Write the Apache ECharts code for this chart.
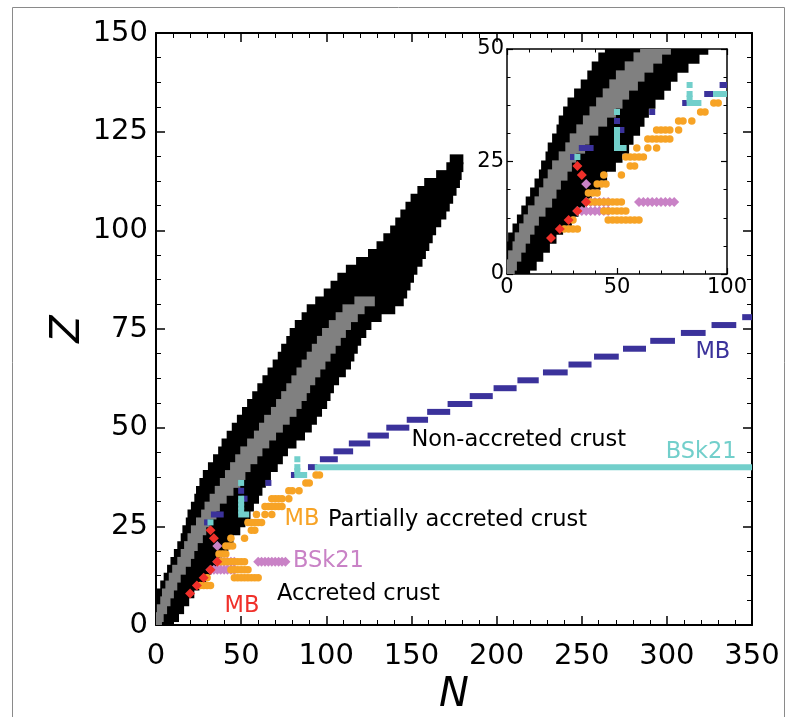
<!DOCTYPE html>
<html>
<head>
<meta charset="utf-8">
<script src="https://cdn.jsdelivr.net/npm/echarts@6/dist/echarts.min.js"></script>
<style>
  html, body { margin: 0; padding: 0; background: #fff; }
  #chart { width: 792px; height: 717px; }
</style>
</head>
<body>
<div id="chart"></div>
<script>
// Nuclear chart: bound nuclei (black), measured masses (gray) and crust compositions.
// Rows are [Z, Nmin, Nmax], each row covering Z-1 .. Z+1.
const boundRows = [
  [0, 0, 10], [2, 0, 13], [4, 0, 16], [6, 0, 19], [8, 1, 22], [10, 3, 25],
  [12, 5, 29], [14, 7, 32], [16, 9, 35], [18, 11, 38], [20, 13, 42], [22, 15, 45],
  [24, 16, 49], [26, 18, 52], [28, 19, 55], [30, 21, 57], [32, 23, 60], [34, 24, 62],
  [36, 26, 64], [38, 28, 67], [40, 31, 71], [42, 34, 74], [44, 37, 77], [46, 39, 82],
  [48, 42, 87], [50, 45, 91], [52, 48, 94], [54, 51, 97], [56, 54, 100], [58, 57, 102],
  [60, 60, 104], [62, 63, 107], [64, 66, 111], [66, 69, 114], [68, 72, 116], [70, 74, 118],
  [72, 77, 120], [74, 79, 123], [76, 82, 126], [78, 86, 132], [80, 89, 140], [82, 94, 145],
  [84, 99, 147], [86, 103, 149], [88, 107, 151], [90, 112, 153], [92, 118, 156], [94, 125, 158],
  [96, 130, 160], [98, 134, 162], [100, 138, 164], [102, 141, 167], [104, 144, 170], [106, 147, 172],
  [108, 150, 174], [110, 154, 176], [112, 158, 178], [114, 165, 179], [116, 171, 180], [118, 173, 180]
];
const measuredRows = [
  [0, 0, 3], [2, 0, 4], [4, 1, 6], [6, 3, 8], [8, 4, 10], [10, 6, 12],
  [12, 8, 14], [14, 10, 17], [16, 13, 20], [18, 15, 22], [20, 17, 24], [22, 19, 27],
  [24, 21, 29], [26, 24, 31], [28, 27, 35], [30, 29, 37], [32, 32, 41], [34, 35, 45],
  [36, 38, 49], [38, 41, 52], [40, 44, 55], [42, 47, 59], [44, 50, 62], [46, 54, 66],
  [48, 58, 70], [50, 61, 74], [52, 64, 78], [54, 68, 82], [56, 71, 85], [58, 74, 88],
  [60, 77, 90], [62, 80, 93], [64, 83, 96], [66, 86, 99], [68, 89, 102], [70, 92, 105],
  [72, 95, 108], [74, 98, 111], [76, 102, 114], [78, 106, 118], [80, 110, 122], [82, 117, 128]
];

// Points are [N, Z].
const partialMB = [
  [26, 10], [28, 10], [30, 10], [32, 10],
  [30, 12], [46, 12], [48, 12], [50, 12], [52, 12], [54, 12], [56, 12], [58, 12], [60, 12],
  [44, 14], [46, 14], [48, 14], [50, 14], [52, 14], [54, 14],
  [38, 16], [40, 16], [42, 16], [44, 16], [46, 16], [48, 16], [50, 16], [52, 16],
  [37, 18], [39, 18], [41, 18],
  [41, 20], [43, 20], [45, 20],
  [44, 22], [52, 22],
  [56, 24], [58, 24],
  [54, 26], [56, 26], [58, 26], [60, 26], [62, 26],
  [59, 28], [64, 28], [68, 28],
  [64, 30], [66, 30], [68, 30], [70, 30], [72, 30], [74, 30],
  [68, 32], [70, 32], [72, 32], [74, 32], [78, 32],
  [78, 34], [80, 34], [84, 34],
  [88, 36], [90, 36],
  [94, 38], [96, 38]
];
const accretedBSk21 = [
  [36, 20],
  [36, 16], [38, 16], [40, 16], [42, 16], [44, 16], [46, 16],
  [60, 16], [62, 16], [64, 16], [66, 16], [68, 16], [70, 16], [72, 16], [74, 16], [76, 16],
  [32, 14], [34, 14], [36, 14], [38, 14], [40, 14], [42, 14], [44, 14], [46, 14]
];
const accretedMB = [[20, 8], [24, 10], [28, 12], [32, 14], [36, 16], [34, 22], [32, 24]];

// Runs of neighbouring N at fixed Z: [Z, Nfrom, Nto].
const nonAccretedMB = [
  [26, 30, 30], [28, 34, 38], [32, 52, 52], [34, 50, 50], [36, 66, 66], [38, 81, 81],
  [40, 91, 93], [42, 98, 105], [44, 106, 114], [46, 115, 124], [48, 126, 135], [50, 137, 147],
  [52, 149, 158], [54, 161, 171], [56, 173, 184], [58, 186, 196], [60, 200, 210], [62, 214, 223],
  [64, 229, 240], [66, 244, 254], [68, 259, 270], [70, 276, 286], [72, 292, 303], [74, 310, 321],
  [76, 328, 339], [78, 346, 354]
];
const nonAccretedBSk21 = [
  [26, 32, 32], [28, 50, 53], [29, 50, 50], [30, 50, 50], [31, 50, 50], [32, 50, 50],
  [36, 50, 50], [38, 83, 87], [39, 83, 83], [40, 83, 83], [42, 83, 83], [40, 95, 350]
];

// Region labels: [N, Z, text, colour, align]
const regionLabels = [
  [327, 69.2, 'MB', '#3b329b', 'center'],
  [150, 46.9, 'Non-accreted crust', '#000000', 'left'],
  [341, 43.8, 'BSk21', '#72cfcb', 'right'],
  [85.7, 26.9, 'MB', '#f7a325', 'center'],
  [101, 26.6, 'Partially accreted crust', '#000000', 'left'],
  [80.4, 16.2, 'BSk21', '#c982c6', 'left'],
  [71, 7.9, 'Accreted crust', '#000000', 'left'],
  [50.5, 4.8, 'MB', '#f0302a', 'center']
];

const mainTicksX = { min: 0, max: 350, interval: 50, minor: 5 };
const mainTicksY = { min: 0, max: 150, interval: 25, minor: 4 };
const insetTicksX = { min: 0, max: 100, interval: 50, minor: 5 };
const insetTicksY = { min: 0, max: 50, interval: 25, minor: 4 };

const FONT = 'DejaVu Sans';

function clipTo(params, r) {
  const cs = params.coordSys;
  return echarts.graphic.clipRectByRect(r, { x: cs.x, y: cs.y, width: cs.width, height: cs.height });
}

// Filled rows; a small overlap in Z keeps neighbouring rows seamless.
function blockRenderer(color) {
  return function (params, api) {
    const z = api.value(0), n0 = api.value(1), n1 = api.value(2);
    const a = api.coord([n0 - 0.5, z + 1.25]);
    const b = api.coord([n1 + 0.5, z - 1.25]);
    const shape = clipTo(params, { x: a[0], y: a[1], width: b[0] - a[0], height: b[1] - a[1] });
    return shape && { type: 'rect', shape: shape, style: { fill: color } };
  };
}

function runRenderer(color, thick) {
  return function (params, api) {
    const z = api.value(0), n0 = api.value(1), n1 = api.value(2);
    const a = api.coord([n0, z]);
    const b = api.coord([n1, z]);
    const shape = clipTo(params, { x: a[0] - thick / 2, y: a[1] - thick / 2, width: b[0] - a[0] + thick, height: thick });
    return shape && { type: 'rect', shape: shape, style: { fill: color } };
  };
}

function makeAxis(t, pos, showLabels, fontSize, extra) {
  return Object.assign({
    type: 'value', gridIndex: 0, position: pos,
    min: t.min, max: t.max, interval: t.interval,
    axisLine: { show: true, onZero: false, lineStyle: { color: '#000', width: 2 } },
    axisTick: { show: true, inside: true, length: 9, lineStyle: { color: '#000', width: 1.5 } },
    minorTick: { show: true, splitNumber: t.minor, length: 5, lineStyle: { color: '#000', width: 1 } },
    splitLine: { show: false },
    minorSplitLine: { show: false },
    axisLabel: { show: showLabels, fontFamily: FONT, fontSize: fontSize, color: '#000', margin: 8 }
  }, extra || {});
}

const insetLine = { show: true, onZero: false, lineStyle: { color: '#000', width: 1.5 } };
const insetTick = { show: true, inside: true, length: 6, lineStyle: { color: '#000', width: 1.2 } };
const insetMinor = (n) => ({ show: true, splitNumber: n, length: 3.5, lineStyle: { color: '#000', width: 1 } });
const insetLabel = { show: true, fontFamily: FONT, fontSize: 21, color: '#000', margin: 3 };

function dataSeries(xi, yi) {
  return [
    { type: 'custom', xAxisIndex: xi, yAxisIndex: yi, z: 1, silent: true,
      renderItem: blockRenderer('#000000'), data: boundRows, encode: { x: [1, 2], y: 0 } },
    { type: 'custom', xAxisIndex: xi, yAxisIndex: yi, z: 2, silent: true,
      renderItem: blockRenderer('#808080'), data: measuredRows, encode: { x: [1, 2], y: 0 } },
    { type: 'scatter', xAxisIndex: xi, yAxisIndex: yi, z: 3, silent: true,
      symbol: 'diamond', symbolSize: 10, itemStyle: { color: '#c982c6', opacity: 1 }, data: accretedBSk21 },
    { type: 'scatter', xAxisIndex: xi, yAxisIndex: yi, z: 4, silent: true,
      symbol: 'circle', symbolSize: 7.5, itemStyle: { color: '#f7a325', opacity: 1 }, data: partialMB },
    { type: 'scatter', xAxisIndex: xi, yAxisIndex: yi, z: 5, silent: true,
      symbol: 'diamond', symbolSize: 10, itemStyle: { color: '#f0302a', opacity: 1 }, data: accretedMB },
    { type: 'custom', xAxisIndex: xi, yAxisIndex: yi, z: 6, silent: true,
      renderItem: runRenderer('#3b329b', 6), data: nonAccretedMB, encode: { x: [1, 2], y: 0 } },
    { type: 'custom', xAxisIndex: xi, yAxisIndex: yi, z: 7, silent: true,
      renderItem: runRenderer('#72cfcb', 6), data: nonAccretedBSk21, encode: { x: [1, 2], y: 0 } }
  ];
}

const labelSeries = {
  type: 'scatter', xAxisIndex: 0, yAxisIndex: 0, z: 10, silent: true, symbolSize: 0,
  itemStyle: { opacity: 1 },
  data: regionLabels.map(function (r) {
    return {
      value: [r[0], r[1]],
      label: {
        show: true, position: [0, 0], formatter: r[2], color: r[3], align: r[4],
        verticalAlign: 'middle', fontFamily: FONT, fontSize: 22.5,
        textBorderWidth: 0, textBorderColor: 'transparent'
      }
    };
  })
};

const chart = echarts.init(document.getElementById('chart'), null, { renderer: 'canvas' });
chart.setOption({
  animation: false,
  backgroundColor: '#ffffff',
  grid: [
    { left: 156, top: 33, width: 596, height: 592, outerBoundsMode: 'none' },
    { left: 507, top: 49, width: 220, height: 225, outerBoundsMode: 'none',
      show: true, backgroundColor: '#ffffff', borderWidth: 0 }
  ],
  xAxis: [
    makeAxis(mainTicksX, 'bottom', true, 29, {
      gridIndex: 0, name: 'N', nameLocation: 'middle', nameGap: 50,
      axisLabel: { show: true, fontFamily: FONT, fontSize: 29, color: '#000', margin: 17 },
      nameTextStyle: { fontFamily: FONT, fontStyle: 'italic', fontSize: 40, color: '#000' }
    }),
    makeAxis(mainTicksX, 'top', false, 29, { gridIndex: 0 }),
    makeAxis(insetTicksX, 'bottom', true, 21, { gridIndex: 1, axisLabel: insetLabel,
      axisLine: insetLine, axisTick: insetTick, minorTick: insetMinor(5) }),
    makeAxis(insetTicksX, 'top', false, 21, { gridIndex: 1,
      axisLine: insetLine, axisTick: insetTick, minorTick: insetMinor(5) })
  ],
  yAxis: [
    makeAxis(mainTicksY, 'left', true, 29, {
      gridIndex: 0, name: 'Z', nameLocation: 'middle', nameGap: 67, nameRotate: 90,
      nameMoveOverlap: false,
      nameTextStyle: { fontFamily: FONT, fontStyle: 'italic', fontSize: 40, color: '#000' }
    }),
    makeAxis(mainTicksY, 'right', false, 29, { gridIndex: 0 }),
    makeAxis(insetTicksY, 'left', true, 21, { gridIndex: 1, axisLabel: insetLabel,
      axisLine: insetLine, axisTick: insetTick, minorTick: insetMinor(4) }),
    makeAxis(insetTicksY, 'right', false, 21, { gridIndex: 1,
      axisLine: insetLine, axisTick: insetTick, minorTick: insetMinor(4) })
  ],
  graphic: [
    { type: 'rect', z: -10, silent: true, shape: { x: 12.5, y: 7.5, width: 772, height: 720 },
      style: { fill: null, stroke: '#8a8a8a', lineWidth: 1 } }
  ],
  series: dataSeries(0, 0).concat(dataSeries(2, 2)).concat([labelSeries])
});
</script>
</body>
</html>
